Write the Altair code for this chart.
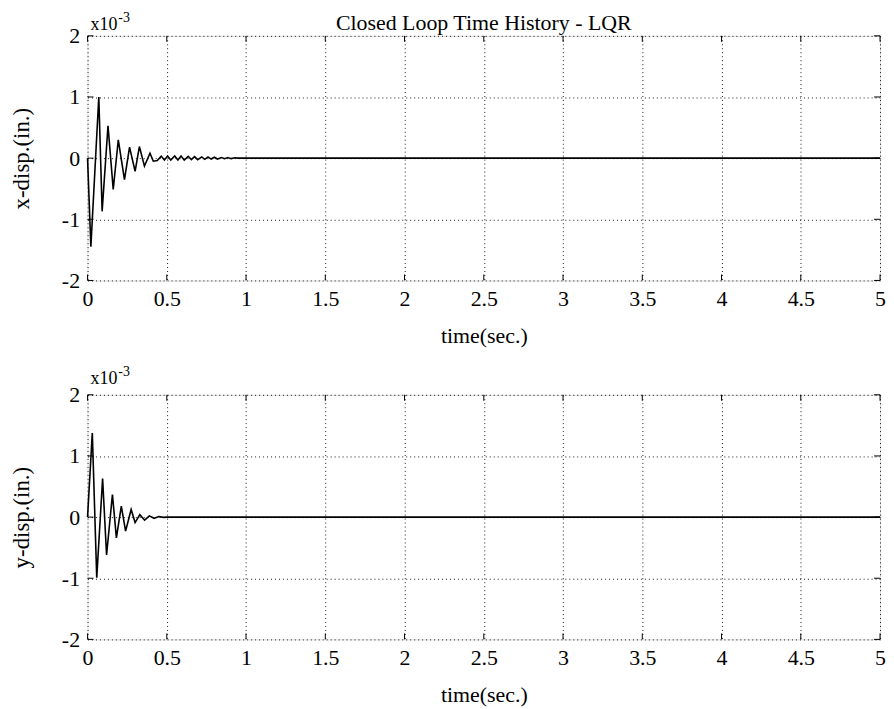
import altair as alt
import pandas as pd

# x-displacement (units of 1e-3 in.)
t_x = [0.0, 0.021, 0.071, 0.092, 0.129, 0.162, 0.194, 0.233, 0.265, 0.300, 0.327,
       0.359, 0.394, 0.415, 0.44, 0.465, 0.485, 0.505, 0.525, 0.55, 0.57, 0.59,
       0.61, 0.635, 0.655, 0.675, 0.695, 0.72, 0.74, 0.76, 0.78, 0.80, 0.82,
       0.845, 0.865, 0.885, 0.905, 0.93, 0.95, 5.0]
v_x = [0.0, -1.45, 1.0, -0.87, 0.53, -0.51, 0.30, -0.35, 0.18, -0.215, 0.19,
       -0.13, 0.08, -0.05, -0.04, 0.03, -0.03, 0.035, -0.03, 0.035, -0.03, 0.035,
       -0.03, 0.03, -0.025, 0.025, -0.025, 0.02, -0.02, 0.02, -0.015, 0.015, -0.015,
       0.01, -0.01, 0.01, -0.008, 0.005, 0.0, 0.0]

# y-displacement (units of 1e-3 in.)
t_y = [0.0, 0.03, 0.058, 0.095, 0.12, 0.157, 0.182, 0.213, 0.24, 0.275, 0.30,
       0.33, 0.36, 0.39, 0.42, 0.45, 0.48, 0.5, 5.0]
v_y = [0.0, 1.375, -0.99, 0.63, -0.62, 0.37, -0.34, 0.18, -0.23, 0.125, -0.09,
       0.04, -0.05, 0.02, -0.02, 0.01, -0.005, 0.0, 0.0]

x_ticks = [0, 0.5, 1, 1.5, 2, 2.5, 3, 3.5, 4, 4.5, 5]
y_ticks = [-2, -1, 0, 1, 2]

W = 797
FONT = "Liberation Serif"


def panel(t, v, ytitle, H, title=None, exp_y=-11, sup_y=-19, title_y=-6):
    xs = alt.Scale(domain=[0, 5], nice=False, zero=False)
    ys = alt.Scale(domain=[-2, 2], nice=False)
    xaxis = alt.Axis(values=x_ticks, title="time(sec.)", grid=True, gridDash=[1, 3],
                     gridColor="black", gridOpacity=0.9, ticks=False, domain=False,
                     labelExpr="'' + datum.value", labelFont=FONT, labelFontSize=22,
                     labelColor="black", labelPadding=8, labelFlush=False,
                     titleFont=FONT, titleFontSize=22, titleFontWeight="normal",
                     titleColor="black", titlePadding=16)
    yaxis = alt.Axis(values=y_ticks, title=ytitle, grid=True, gridDash=[1, 3],
                     gridColor="black", gridOpacity=0.9, ticks=False, domain=False,
                     labelExpr="'' + datum.value", labelFont=FONT, labelFontSize=22,
                     labelColor="black", labelPadding=8,
                     titleFont=FONT, titleFontSize=23, titleFontWeight="normal",
                     titleColor="black", titlePadding=28)
    df = pd.DataFrame({"t": t, "v": v})
    line = alt.Chart(df).mark_line(color="black", strokeWidth=1.6).encode(
        x=alt.X("t:Q", scale=xs, axis=xaxis),
        y=alt.Y("v:Q", scale=ys, axis=yaxis),
    )
    xt = pd.DataFrame({"xt": x_ticks})
    yt = pd.DataFrame({"yt": y_ticks})
    tick_b = alt.Chart(xt).mark_rule(color="black", strokeWidth=1).encode(
        x=alt.X("xt:Q", scale=xs), y=alt.value(H - 6), y2=alt.value(H))
    tick_t = alt.Chart(xt).mark_rule(color="black", strokeWidth=1).encode(
        x=alt.X("xt:Q", scale=xs), y=alt.value(0), y2=alt.value(6))
    tick_l = alt.Chart(yt).mark_rule(color="black", strokeWidth=1).encode(
        y=alt.Y("yt:Q", scale=ys), x=alt.value(0), x2=alt.value(6))
    tick_r = alt.Chart(yt).mark_rule(color="black", strokeWidth=1).encode(
        y=alt.Y("yt:Q", scale=ys), x=alt.value(W - 6), x2=alt.value(W))
    exp_base = alt.Chart(pd.DataFrame({"s": ["x10"]})).mark_text(
        font=FONT, fontSize=18, align="left", baseline="alphabetic", color="black"
    ).encode(text="s:N", x=alt.value(3), y=alt.value(exp_y))
    exp_sup = alt.Chart(pd.DataFrame({"s": ["-3"]})).mark_text(
        font=FONT, fontSize=14, align="left", baseline="alphabetic", color="black"
    ).encode(text="s:N", x=alt.value(31), y=alt.value(sup_y))
    layers = [line, tick_b, tick_t, tick_l, tick_r, exp_base, exp_sup]
    if title is not None:
        ttl = alt.Chart(pd.DataFrame({"s": [title]})).mark_text(
            font=FONT, fontSize=22, align="center", baseline="alphabetic", color="black"
        ).encode(text="s:N", x=alt.value(W / 2), y=alt.value(title_y))
        layers.append(ttl)
    return alt.layer(*layers).properties(width=W, height=H)


top = panel(t_x, v_x, "x-disp.(in.)", 246, "Closed Loop Time History - LQR",
            exp_y=-6, sup_y=-14, title_y=-6)
bottom = panel(t_y, v_y, "y-disp.(in.)", 246)

chart = alt.vconcat(top, bottom, spacing=17).properties(
    padding={"left": 2, "top": 0, "right": 0, "bottom": 0}
).configure_view(stroke="black", strokeWidth=2).configure(background="white")

chart.save("out.html", embed_options={"renderer": "svg", "actions": False})
